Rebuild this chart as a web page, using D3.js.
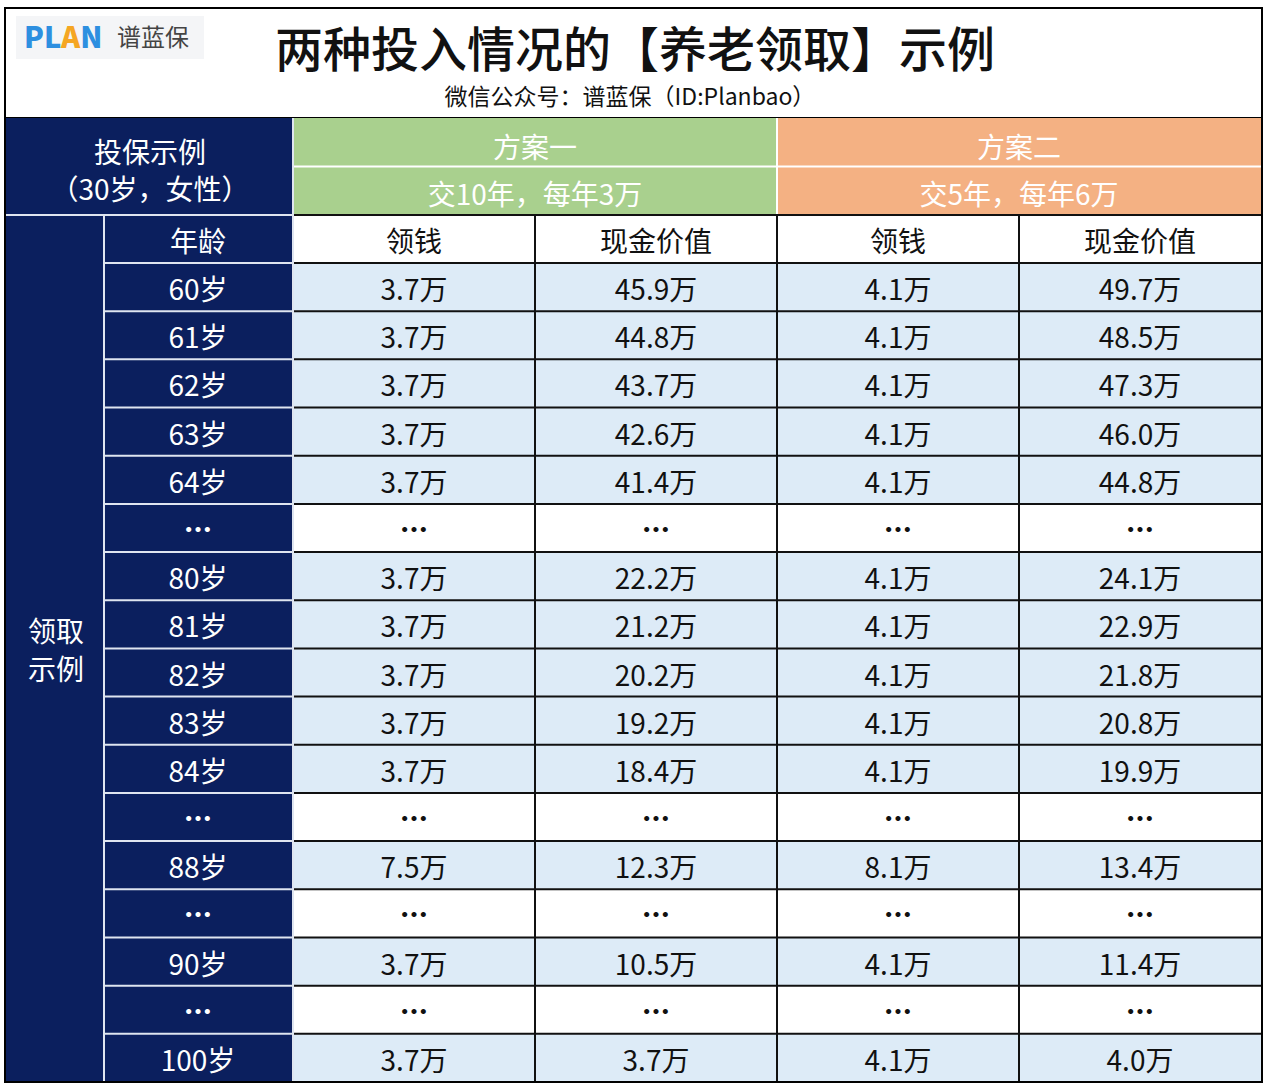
<!DOCTYPE html><html><head><meta charset="utf-8">
<script src="https://cdn.jsdelivr.net/npm/d3@7"></script>
<style>body{margin:0;background:#fff}text{font-family:"Noto Sans CJK SC",sans-serif}</style></head><body>
<svg id="c" width="1267" height="1086"></svg>
<script>
const ages=["60岁","61岁","62岁","63岁","64岁","…","80岁","81岁","82岁","83岁","84岁","…","88岁","…","90岁","…","100岁"];
const planAPay=["3.7万","3.7万","3.7万","3.7万","3.7万","…","3.7万","3.7万","3.7万","3.7万","3.7万","…","7.5万","…","3.7万","…","3.7万"];
const planACash=["45.9万","44.8万","43.7万","42.6万","41.4万","…","22.2万","21.2万","20.2万","19.2万","18.4万","…","12.3万","…","10.5万","…","3.7万"];
const planBPay=["4.1万","4.1万","4.1万","4.1万","4.1万","…","4.1万","4.1万","4.1万","4.1万","4.1万","…","8.1万","…","4.1万","…","4.1万"];
const planBCash=["49.7万","48.5万","47.3万","46.0万","44.8万","…","24.1万","22.9万","21.8万","20.8万","19.9万","…","13.4万","…","11.4万","…","4.0万"];
const colHeads=["领钱","现金价值","领钱","现金价值"];

const svg=d3.select("#c");
const NAVY="#0b1f5e",GREEN="#a9d08e",ORANGE="#f4b183",BLUE="#ddebf7";
const L=5,R=1262,T=8,B=1082;
const y=d3.scaleBand().domain(d3.range(ages.length)).range([263,B]);
const cols=[293,535,777,1019,1261];
svg.append("rect").attr("x",L).attr("y",T).attr("width",R-L).attr("height",110).attr("fill","#fff").attr("stroke","#000").attr("stroke-width",2);
svg.append("rect").attr("x",16).attr("y",16).attr("width",188).attr("height",43).attr("fill","#f4f5f7");
const lg=svg.append("text").attr("x",24).attr("y",48).attr("font-size",29).attr("font-weight","900").attr("font-family","DejaVu Sans");
lg.append("tspan").attr("fill","#2d8fe0").text("PL");
lg.append("tspan").attr("fill","#f5a623").text("A");
lg.append("tspan").attr("fill","#2d8fe0").text("N");
svg.append("text").attr("x",117).attr("y",46).attr("font-size",24).attr("fill","#444").text("谱蓝保");
svg.append("text").attr("x",635).attr("y",67).attr("text-anchor","middle").attr("font-size",48).attr("font-weight","500").attr("fill","#111").text("两种投入情况的【养老领取】示例");
svg.append("text").attr("x",630).attr("y",105).attr("text-anchor","middle").attr("font-size",23).attr("fill","#111").text("微信公众号：谱蓝保（ID:Planbao）");
svg.append("rect").attr("x",L).attr("y",118).attr("width",288).attr("height",964).attr("fill",NAVY);
svg.append("rect").attr("x",293).attr("y",118).attr("width",484).attr("height",97).attr("fill",GREEN);
svg.append("rect").attr("x",777).attr("y",118).attr("width",485).attr("height",97).attr("fill",ORANGE);
svg.append("line").attr("x1",293).attr("x2",1262).attr("y1",166.5).attr("y2",166.5).attr("stroke","#fff").attr("stroke-width",2);
svg.append("line").attr("x1",777).attr("x2",777).attr("y1",118).attr("y2",215).attr("stroke","#fff").attr("stroke-width",2);
const ht=(x,yy,s,fill,fs,fw)=>svg.append("text").attr("x",x).attr("y",yy).attr("text-anchor","middle").attr("dominant-baseline","central").attr("font-size",fs||28).attr("font-weight",fw||"normal").attr("fill",fill).text(s);
ht(150,151,"投保示例","#fff");ht(150,188,"（30岁，女性）","#fff");
ht(535,146,"方案一","#fff");ht(535,193,"交10年，每年3万","#fff");
ht(1019,146,"方案二","#fff");ht(1019,193,"交5年，每年6万","#fff");
svg.append("rect").attr("x",293).attr("y",215).attr("width",969).attr("height",48).attr("fill","#fff");
ht(198,240,"年龄","#fff");
colHeads.forEach((h,i)=>ht((cols[i]+cols[i+1])/2,240,h,"#111"));
ht(56,630,"领取","#fff");ht(56,668,"示例","#fff");
const vals=[planAPay,planACash,planBPay,planBCash];
ages.forEach((a,r)=>{
  const yy=y(r),h=y.bandwidth(),el=a==="…";
  svg.append("rect").attr("x",293).attr("y",yy).attr("width",969).attr("height",h).attr("fill",el?"#fff":BLUE);
  const cy=yy+h/2+1;
  ht(198,cy,a,"#fff",28,el?"900":"normal");
  vals.forEach((v,i)=>ht((cols[i]+cols[i+1])/2,cy,v[r],"#111",28,el?"900":"normal"));
});
const gl=(x1,y1,x2,y2,c,w)=>svg.append("line").attr("x1",x1).attr("y1",y1).attr("x2",x2).attr("y2",y2).attr("stroke",c).attr("stroke-width",w||2);
[215].concat(d3.range(ages.length).map(r=>y(r))).forEach(v=>{gl(103,v,293,v,"#dfe5f0",2);gl(293,v,R,v,"#111",2);});
gl(L,215,293,215,"#dfe5f0",2);
gl(104,215,104,B,"#dfe5f0",2);gl(293,118,293,B,"#dfe5f0",2);
cols.slice(1,4).forEach(c=>gl(c,215,c,B,"#111",2));
svg.append("rect").attr("x",L).attr("y",T).attr("width",R-L).attr("height",B-T).attr("fill","none").attr("stroke","#000").attr("stroke-width",2);
</script></body></html>
